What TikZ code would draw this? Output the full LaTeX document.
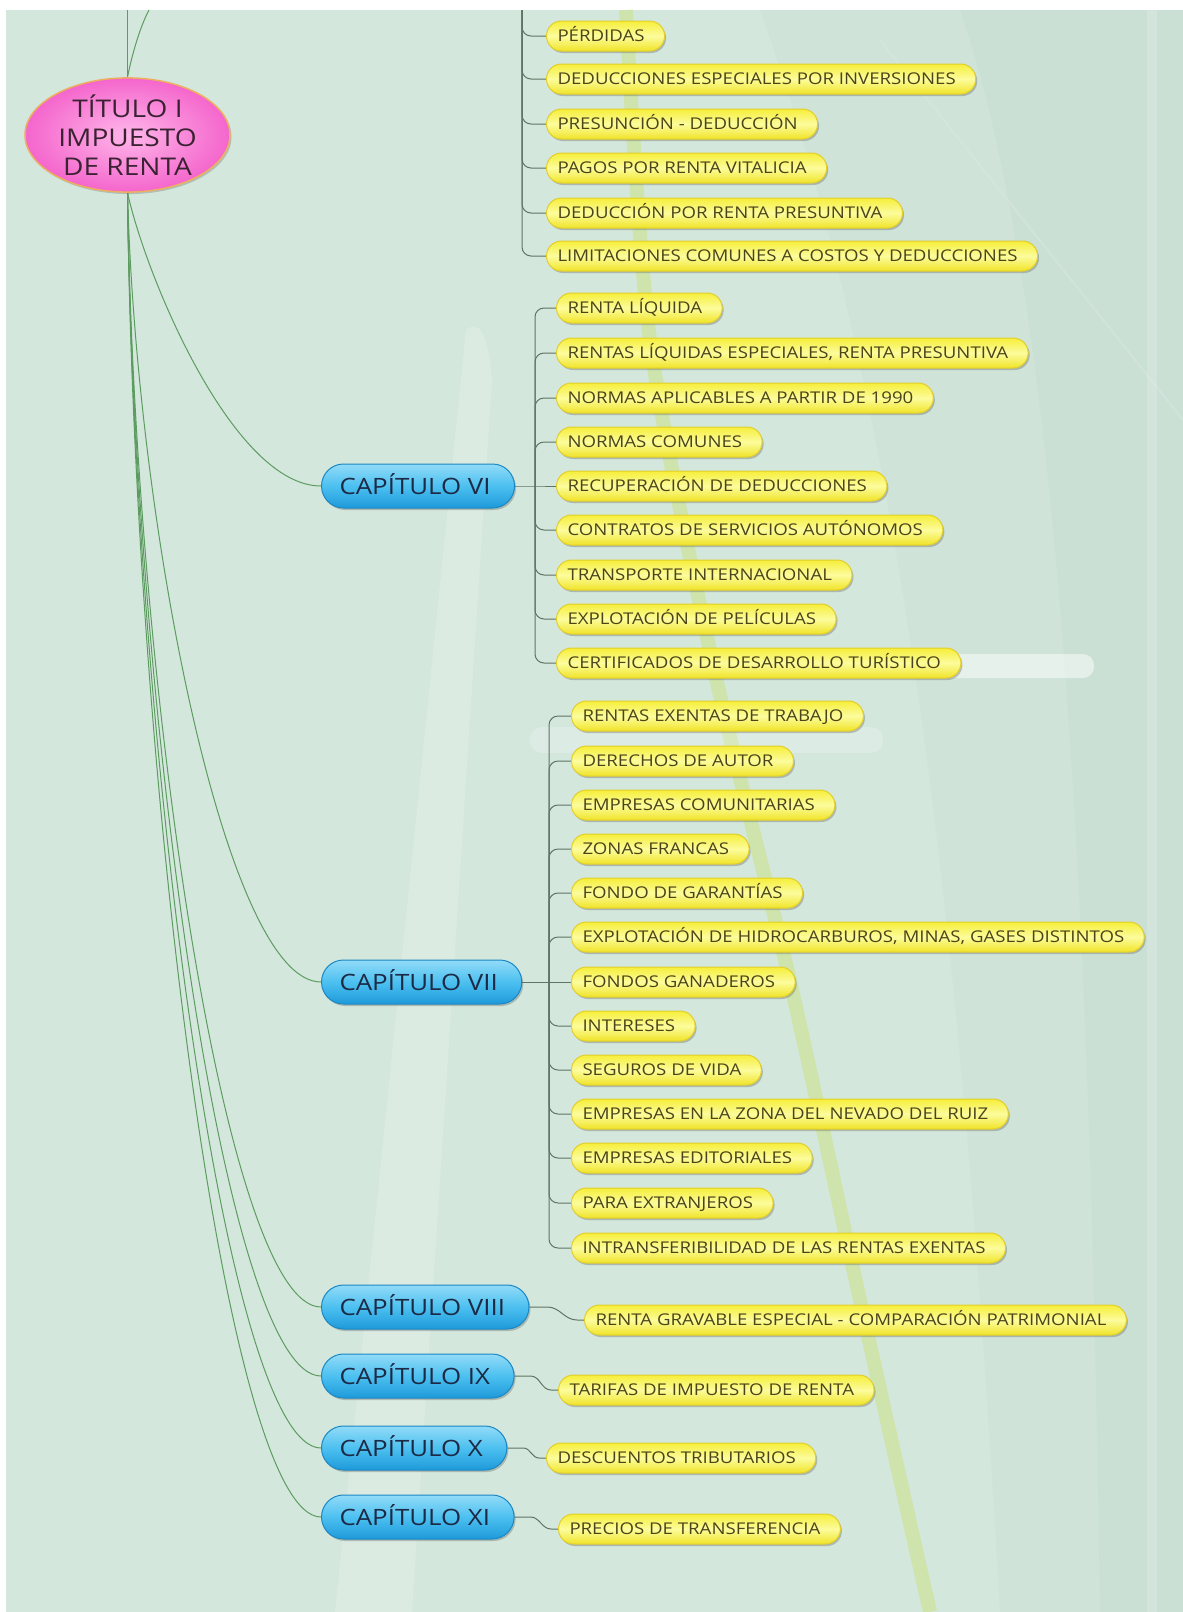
\documentclass[tikz,border=0pt]{standalone}
\usepackage{fontspec}
\setmainfont{Open Sans}[FakeStretch=1.15]
\usetikzlibrary{shadows,shapes.geometric,calc}
\pgfdeclarelayer{deco}
\pgfdeclarelayer{wires}
\pgfsetlayers{deco,wires,main}
\definecolor{bgl}{HTML}{D4E7DC}
\definecolor{bgr}{HTML}{C6DBD1}
\definecolor{stripe}{HTML}{CDE4A0}
\definecolor{leaftop}{HTML}{F6EE3A}
\definecolor{leafmid}{HTML}{FCFC9C}
\definecolor{leafbot}{HTML}{F0E428}
\definecolor{leafedge}{HTML}{E2CE2C}
\definecolor{leaftext}{HTML}{4A4418}
\definecolor{chaptop}{HTML}{92DBF8}
\definecolor{chapmid}{HTML}{4CC0F0}
\definecolor{chapbot}{HTML}{1E9ADA}
\definecolor{chapedge}{HTML}{1B88C6}
\definecolor{chaptext}{HTML}{1C2A46}
\definecolor{rootin}{HTML}{FFB6EA}
\definecolor{rootout}{HTML}{F466CC}
\definecolor{rootedge}{HTML}{EEAE62}
\definecolor{roottext}{HTML}{3A2232}
\definecolor{trunkc}{HTML}{5C9C60}
\definecolor{wirec}{HTML}{5E7464}
\tikzset{
  leaf/.style={anchor=west, draw=leafedge, line width=1pt, rounded corners=15pt,
    minimum height=30pt, inner xsep=11pt, inner ysep=0pt, text height=11.6pt, text depth=0pt,
    top color=leaftop, bottom color=leafbot, middle color=leafmid,
    font=\fontsize{16.2}{18}\selectfont, text=leaftext,
    drop shadow={shadow xshift=1.5pt, shadow yshift=-2pt, opacity=.3, fill=black!70},
    execute at end node={\hspace{9pt}}},
  chap/.style={anchor=west, draw=chapedge, line width=1pt, rounded corners=22pt,
    minimum height=44pt, inner xsep=18pt, inner ysep=0pt, text height=16pt, text depth=0pt,
    top color=chaptop, bottom color=chapbot, middle color=chapmid,
    font=\fontsize{22.5}{26}\selectfont, text=chaptext,
    drop shadow={shadow xshift=1.5pt, shadow yshift=-2pt, opacity=.3, fill=black!70},
    execute at end node={\hspace{6pt}}},
  rootnode/.style={ellipse, draw=rootedge, line width=1.5pt, minimum width=205pt,
    minimum height=114pt, inner sep=0pt, align=center, inner color=rootin, outer color=rootout,
    font=\fontsize{24.4}{29}\selectfont, text=roottext,
    drop shadow={shadow xshift=1.5pt, shadow yshift=-2pt, opacity=.25, fill=black!70}},
  trunk/.style={draw=trunkc, line width=1pt},
  wire/.style={draw=wirec, line width=1pt}
}
\begin{document}
\begin{tikzpicture}[x=1pt,y=-1pt]
\useasboundingbox (0,0) rectangle (1183,1612);
% ---------- background ----------
\begin{pgfonlayer}{deco}
\fill[white] (0,0) rectangle (1183,1612);
\fill[bgl] (6,10) rectangle (1183,1612);
\fill[bgr, opacity=.3] (760,10) -- (1183,10) -- (1183,1612) -- (1000,1612) .. controls (960,900) and (900,400) .. (760,10) -- cycle;
\fill[bgr, opacity=.35] (1183,10) -- (1183,1612) -- (1100,1612) .. controls (1090,900) and (1060,300) .. (960,10) -- cycle;
\fill[white, opacity=.17] (466,330) .. controls (478,320) and (488,330) .. (492,380) -- (412,1612) -- (335,1612) -- cycle;
\draw[stripe, line width=14pt, opacity=.8] plot[smooth] coordinates {(626,10) (650,340) (712,660) (790,981) (860,1300) (930,1612)};
\fill[white, opacity=.5, rounded corners=11pt] (940,654) rectangle (1094,678);
\fill[white, opacity=.2, rounded corners=12pt] (530,727) rectangle (883,753);
\fill[white, opacity=.15] (1147,10) rectangle (1157,1612);
\draw[white, opacity=.12, line width=2pt] (880,40) -- (1183,420);
\end{pgfonlayer}
% ---------- root ----------
\node[rootnode] (root) at (127.5,135) {TÍTULO I\\IMPUESTO\\DE RENTA};
% ---------- chapters ----------
\node[chap] (c6) at (321,486) {CAPÍTULO VI};
\node[chap] (c7) at (321,982) {CAPÍTULO VII};
\node[chap] (c8) at (321,1307) {CAPÍTULO VIII};
\node[chap] (c9) at (321,1376) {CAPÍTULO IX};
\node[chap] (c10) at (321,1448) {CAPÍTULO X};
\node[chap] (c11) at (321,1517) {CAPÍTULO XI};
% ---------- leaves: chapter V (parent above) ----------
\foreach \n/\y/\t in {t1/36/{PÉRDIDAS}, t2/79/{DEDUCCIONES ESPECIALES POR INVERSIONES},
  t3/124/{PRESUNCIÓN - DEDUCCIÓN}, t4/168/{PAGOS POR RENTA VITALICIA},
  t5/213/{DEDUCCIÓN POR RENTA PRESUNTIVA}, t6/256/{LIMITACIONES COMUNES A COSTOS Y DEDUCCIONES}}
  \node[leaf] (\n) at (546,\y) {\t};
% ---------- leaves: chapter VI ----------
\foreach \n/\y/\t in {a1/308/{RENTA LÍQUIDA}, a2/353/{RENTAS LÍQUIDAS ESPECIALES, RENTA PRESUNTIVA},
  a3/398/{NORMAS APLICABLES A PARTIR DE 1990}, a4/442/{NORMAS COMUNES},
  a5/486/{RECUPERACIÓN DE DEDUCCIONES}, a6/530/{CONTRATOS DE SERVICIOS AUTÓNOMOS},
  a7/575/{TRANSPORTE INTERNACIONAL}, a8/619/{EXPLOTACIÓN DE PELÍCULAS},
  a9/663/{CERTIFICADOS DE DESARROLLO TURÍSTICO}}
  \node[leaf] (\n) at (556,\y) {\t};
% ---------- leaves: chapter VII ----------
\foreach \n/\y/\t in {b1/716/{RENTAS EXENTAS DE TRABAJO}, b2/761/{DERECHOS DE AUTOR},
  b3/805/{EMPRESAS COMUNITARIAS}, b4/849/{ZONAS FRANCAS}, b5/893/{FONDO DE GARANTÍAS},
  b6/937/{EXPLOTACIÓN DE HIDROCARBUROS, MINAS, GASES DISTINTOS}, b7/982/{FONDOS GANADEROS},
  b8/1026/{INTERESES}, b9/1070/{SEGUROS DE VIDA}, b10/1114/{EMPRESAS EN LA ZONA DEL NEVADO DEL RUIZ},
  b11/1158/{EMPRESAS EDITORIALES}, b12/1203/{PARA EXTRANJEROS},
  b13/1248/{INTRANSFERIBILIDAD DE LAS RENTAS EXENTAS}}
  \node[leaf] (\n) at (571,\y) {\t};
% ---------- leaves: chapters VIII - XI ----------
\node[leaf] (l8) at (584,1320) {RENTA GRAVABLE ESPECIAL - COMPARACIÓN PATRIMONIAL};
\node[leaf] (l9) at (558,1390) {TARIFAS DE IMPUESTO DE RENTA};
\node[leaf] (l10) at (546,1458) {DESCUENTOS TRIBUTARIOS};
\node[leaf] (l11) at (558,1529) {PRECIOS DE TRANSFERENCIA};
% ---------- bus points ----------
\coordinate (bus5) at (522,10);
\coordinate (bus6) at (535,486);
\coordinate (bus7) at (549,982);
\coordinate (upA) at (127.5,10);
\coordinate (upB) at (149,10);
% ---------- connectors ----------
\begin{pgfonlayer}{wires}
\draw[trunk] (root.north) -- (upA);
\draw[trunk] (root.north) .. controls (133,50) and (141,25) .. (upB);
\draw[trunk] (root.south) .. controls (147,280) and (234,486) .. (c6.west);
\draw[trunk] (root.south) .. controls (136,520) and (225,982) .. (c7.west);
\draw[trunk] (root.south) .. controls (134,680) and (225,1307) .. (c8.west);
\draw[trunk] (root.south) .. controls (134,710) and (225,1376) .. (c9.west);
\draw[trunk] (root.south) .. controls (134,740) and (225,1448) .. (c10.west);
\draw[trunk] (root.south) .. controls (134,770) and (225,1517) .. (c11.west);
\foreach \n in {t1,t2,t3,t4,t5,t6}
  \draw[wire, rounded corners=9pt] (bus5) |- (\n.west);
\draw[wire] (c6.east) -- (bus6) -- (a5.west);
\foreach \n in {a1,a2,a3,a4,a6,a7,a8,a9}
  \draw[wire, rounded corners=9pt] (bus6) |- (\n.west);
\draw[wire] (c7.east) -- (bus7) -- (b7.west);
\foreach \n in {b1,b2,b3,b4,b5,b6,b8,b9,b10,b11,b12,b13}
  \draw[wire, rounded corners=9pt] (bus7) |- (\n.west);
\draw[wire] (c8.east) -- ++(18,0) to[out=0,in=180] ($(l8.west)+(-7,0)$) -- (l8.west);
\draw[wire] (c9.east) -- ++(16,0) to[out=0,in=180] ($(l9.west)+(-7,0)$) -- (l9.west);
\draw[wire] (c10.east) -- ++(16,0) to[out=0,in=180] ($(l10.west)+(-7,0)$) -- (l10.west);
\draw[wire] (c11.east) -- ++(16,0) to[out=0,in=180] ($(l11.west)+(-7,0)$) -- (l11.west);
\end{pgfonlayer}
\end{tikzpicture}
\end{document}
